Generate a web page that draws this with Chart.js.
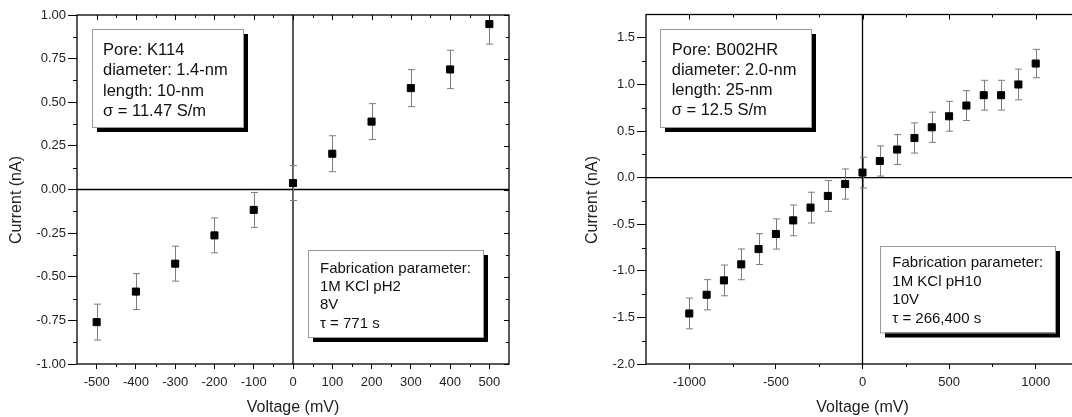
<!DOCTYPE html>
<html>
<head>
<meta charset="utf-8">
<script src="https://cdn.jsdelivr.net/npm/chart.js@4"></script>
<style>
html, body { margin: 0; padding: 0; background: #fff; overflow: hidden; width: 1072px; height: 417px; }
canvas { position: absolute; top: 0; }
</style>
</head>
<body>
<canvas id="ivLeft" width="540" height="417" style="left:0"></canvas>
<canvas id="ivRight" width="545" height="417" style="left:560px"></canvas>
<script>
// Pore K114 (left panel)
const leftVoltage = [-500, -400, -300, -200, -100, 0, 100, 200, 300, 400, 500];
const leftCurrent = [-0.760, -0.585, -0.425, -0.263, -0.117, 0.037, 0.205, 0.389, 0.581, 0.688, 0.948];
const leftError = [0.103, 0.103, 0.100, 0.100, 0.100, 0.100, 0.103, 0.103, 0.106, 0.110, 0.115];
const leftXTicks = [-500, -400, -300, -200, -100, 0, 100, 200, 300, 400, 500];
const leftYTicks = [-1.00, -0.75, -0.50, -0.25, 0.00, 0.25, 0.50, 0.75, 1.00];
const leftInfo = ['Pore: K114', 'diameter: 1.4-nm', 'length: 10-nm', 'σ = 11.47 S/m'];
const leftFab = ['Fabrication parameter:', '1M KCl pH2', '8V', 'τ = 771 s'];

// Pore B002HR (right panel)
const rightVoltage = [-1000, -900, -800, -700, -600, -500, -400, -300, -200, -100, 0,
                      100, 200, 300, 400, 500, 600, 700, 800, 900, 1000];
const rightCurrent = [-1.458, -1.257, -1.103, -0.931, -0.767, -0.605, -0.459, -0.322, -0.197, -0.069, 0.054,
                      0.178, 0.301, 0.425, 0.540, 0.658, 0.773, 0.884, 0.884, 0.999, 1.224];
const rightError = [0.165, 0.162, 0.165, 0.165, 0.165, 0.162, 0.165, 0.165, 0.165, 0.162, 0.165,
                    0.162, 0.160, 0.162, 0.162, 0.160, 0.160, 0.160, 0.160, 0.165, 0.152];
const rightXTicks = [-1000, -500, 0, 500, 1000];
const rightYTicks = [-2.0, -1.5, -1.0, -0.5, 0.0, 0.5, 1.0, 1.5];
const rightInfo = ['Pore: B002HR', 'diameter: 2.0-nm', 'length: 25-nm', 'σ = 12.5 S/m'];
const rightFab = ['Fabrication parameter:', '1M KCl pH10', '10V', 'τ = 266,400 s'];

const FONT = '"Liberation Sans", Arial, sans-serif';

function drawBox(ctx, b) {
    ctx.fillStyle = '#000';
    ctx.fillRect(b.x + 5, b.y + 5, b.w, b.h);
    ctx.fillStyle = '#fff';
    ctx.fillRect(b.x, b.y, b.w, b.h);
    ctx.strokeStyle = '#9a9a9a';
    ctx.lineWidth = 1;
    ctx.strokeRect(b.x + 0.5, b.y + 0.5, b.w, b.h);
    ctx.fillStyle = '#111';
    ctx.font = b.size + 'px ' + FONT;
    ctx.textAlign = 'left';
    ctx.textBaseline = 'alphabetic';
    b.lines.forEach((t, i) => ctx.fillText(t, b.tx, b.base + i * b.gap));
}

// frame, zero lines, minor/mirrored ticks, error bars and the text boxes
function panelPlugin(cfg) {
    return {
        id: 'panel',
        beforeDatasetsDraw(chart) {
            const { ctx, chartArea: a, scales: { x, y } } = chart;
            ctx.save();
            ctx.strokeStyle = '#000';
            ctx.lineWidth = 1.3;
            const x0 = x.getPixelForValue(0), y0 = y.getPixelForValue(0);
            ctx.beginPath();
            ctx.moveTo(a.left, y0); ctx.lineTo(a.right, y0);
            ctx.moveTo(x0, a.top); ctx.lineTo(x0, a.bottom);
            ctx.stroke();

            ctx.beginPath();
            ctx.rect(a.left, a.top, a.right - a.left, a.bottom - a.top);
            ctx.clip();
            ctx.strokeStyle = '#7c7c7c';
            ctx.lineWidth = 1;
            chart.data.datasets[0].data.forEach((p, i) => {
                const px = Math.round(x.getPixelForValue(p.x)) + 0.5;
                const yt = y.getPixelForValue(p.y + cfg.errors[i]);
                const yb = y.getPixelForValue(p.y - cfg.errors[i]);
                ctx.beginPath();
                ctx.moveTo(px, yt); ctx.lineTo(px, yb);
                ctx.moveTo(px - 3.5, yt); ctx.lineTo(px + 3.5, yt);
                ctx.moveTo(px - 3.5, yb); ctx.lineTo(px + 3.5, yb);
                ctx.stroke();
            });
            ctx.restore();
        },
        afterDraw(chart) {
            const { ctx, chartArea: a, scales: { x, y } } = chart;
            ctx.save();
            ctx.strokeStyle = '#000';
            ctx.lineWidth = 1;
            const xv = x.ticks.map(t => t.value), yv = y.ticks.map(t => t.value);
            const xMinor = [], yMinor = [];
            for (let i = 0; i < xv.length - 1; i++) xMinor.push((xv[i] + xv[i + 1]) / 2);
            for (let i = 0; i < yv.length - 1; i++) yMinor.push((yv[i] + yv[i + 1]) / 2);
            const xStep = xv[1] - xv[0], yStep = yv[1] - yv[0];
            xMinor.push(xv[0] - xStep / 2, xv[xv.length - 1] + xStep / 2);
            yMinor.push(yv[0] - yStep / 2, yv[yv.length - 1] + yStep / 2);

            ctx.beginPath();
            xv.forEach(v => {
                const px = Math.round(x.getPixelForValue(v)) + 0.5;
                ctx.moveTo(px, a.top); ctx.lineTo(px, a.top + 5);
            });
            xMinor.forEach(v => {
                const px = Math.round(x.getPixelForValue(v)) + 0.5;
                if (px <= a.left + 1 || px >= a.right - 1) return;
                ctx.moveTo(px, a.top); ctx.lineTo(px, a.top + 3);
                ctx.moveTo(px, a.bottom); ctx.lineTo(px, a.bottom + 3);
            });
            yv.forEach(v => {
                const py = Math.round(y.getPixelForValue(v)) + 0.5;
                ctx.moveTo(a.right, py); ctx.lineTo(a.right - 5, py);
            });
            yMinor.forEach(v => {
                const py = Math.round(y.getPixelForValue(v)) + 0.5;
                if (py <= a.top + 1 || py >= a.bottom - 1) return;
                ctx.moveTo(a.left, py); ctx.lineTo(a.left - 4, py);
                ctx.moveTo(a.right, py); ctx.lineTo(a.right - 3, py);
            });
            ctx.stroke();

            ctx.lineWidth = 1.3;
            ctx.strokeRect(a.left, a.top, a.right - a.left, a.bottom - a.top);

            cfg.boxes.forEach(b => drawBox(ctx, b));

            ctx.translate(cfg.yTitleX, cfg.yTitleY);
            ctx.rotate(-Math.PI / 2);
            ctx.fillStyle = '#222';
            ctx.font = '16px ' + FONT;
            ctx.textAlign = 'center';
            ctx.textBaseline = 'middle';
            ctx.fillText('Current (nA)', 0, 0);
            ctx.restore();
        }
    };
}

function makePanel(id, p) {
    const tickFont = { family: FONT, size: 13 };
    return new Chart(document.getElementById(id), {
        type: 'scatter',
        data: {
            datasets: [{
                data: p.volts.map((v, i) => ({ x: v, y: p.amps[i] })),
                pointStyle: 'rect',
                pointRadius: 5,
                pointHoverRadius: 5,
                backgroundColor: '#000',
                borderColor: '#000',
                borderWidth: 1
            }]
        },
        options: {
            responsive: false,
            animation: false,
            layout: { padding: { left: 0, top: p.padTop, right: p.padRight, bottom: 0 } },
            plugins: { legend: { display: false }, tooltip: { enabled: false } },
            scales: {
                x: {
                    type: 'linear',
                    min: p.xMin,
                    max: p.xMax,
                    afterBuildTicks: s => { s.ticks = p.xTicks.map(v => ({ value: v })); },
                    afterFit: s => { s.height = 53; },
                    border: { display: false },
                    grid: { display: true, drawOnChartArea: false, drawTicks: true, tickLength: 5, color: '#000' },
                    ticks: { font: tickFont, color: '#222', padding: 6, maxRotation: 0, callback: v => String(v) },
                    title: { display: true, text: 'Voltage (mV)', color: '#222', font: { family: FONT, size: 16 }, padding: 0 }
                },
                y: {
                    type: 'linear',
                    min: p.yMin,
                    max: p.yMax,
                    afterBuildTicks: s => { s.ticks = p.yTicks.map(v => ({ value: v })); },
                    afterFit: s => { s.width = p.yWidth; },
                    border: { display: false },
                    grid: { display: true, drawOnChartArea: false, drawTicks: true, tickLength: 9, color: '#000' },
                    ticks: { font: tickFont, color: '#222', padding: 2, callback: v => v.toFixed(p.digits) }
                }
            }
        },
        plugins: [panelPlugin(p)]
    });
}

makePanel('ivLeft', {
    volts: leftVoltage, amps: leftCurrent, errors: leftError,
    xTicks: leftXTicks, yTicks: leftYTicks, digits: 2,
    xMin: -550, xMax: 550, yMin: -1, yMax: 1,
    padTop: 15, padRight: 31, yWidth: 77,
    yTitleX: 17, yTitleY: 200,
    boxes: [
        { x: 92, y: 29, w: 151, h: 98, tx: 103, base: 55, gap: 20.3, size: 16.5, lines: leftInfo },
        { x: 308, y: 250, w: 175, h: 87, tx: 320, base: 272.7, gap: 18.3, size: 15, lines: leftFab }
    ]
});

makePanel('ivRight', {
    volts: rightVoltage, amps: rightCurrent, errors: rightError,
    xTicks: rightXTicks, yTicks: rightYTicks, digits: 1,
    xMin: -1250, xMax: 1250, yMin: -2, yMax: 1.75,
    padTop: 14.5, padRight: 26, yWidth: 86,
    yTitleX: 33, yTitleY: 200,
    boxes: [
        { x: 100, y: 29, w: 151, h: 98, tx: 111.7, base: 54.5, gap: 20.2, size: 16.5, lines: rightInfo },
        { x: 320, y: 246, w: 175, h: 86.5, tx: 332.3, base: 267, gap: 18.5, size: 15, lines: rightFab }
    ]
});
</script>
</body>
</html>
